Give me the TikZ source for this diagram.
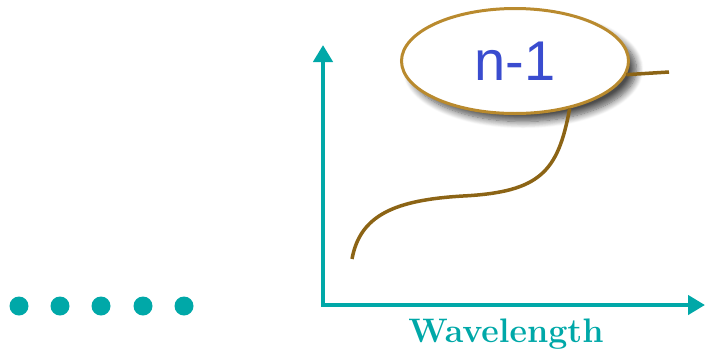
\documentclass[tikz,border=0pt]{standalone}
\usepackage{fontspec}
\usepackage{tikz}
\usetikzlibrary{arrows.meta,shapes.geometric,shadows.blur}
\newfontfamily\ellfont{Liberation Sans}
\definecolor{axisteal}{HTML}{00A8A8}
\definecolor{curvebrown}{HTML}{8C6415}
\definecolor{ringgold}{HTML}{B98A2E}
\definecolor{labelblue}{HTML}{3A4CCF}

\begin{document}
\begin{tikzpicture}[x=1pt,y=-1pt,
  axis/.style={axisteal,line width=4.5pt,line join=miter,{Triangle[length=17pt,width=19pt]}-{Triangle[length=17pt,width=19pt]}},
  curve/.style={curvebrown,line width=3.5pt}]
  \useasboundingbox (0,0) rectangle (706,354);
  \coordinate (O) at (323,305);
  \coordinate (Ytop) at (323,45);
  \coordinate (Xend) at (705,305);
  \coordinate (S) at (352,259);
  \coordinate (E) at (669,72);
  \draw[axis] (Ytop)--(O)--(Xend);
  \node[axisteal,font=\fontsize{34}{40}\selectfont\bfseries] (wl) at (506,334) {Wavelength};
  \foreach \x in {19,60,101,143,184}
    \fill[axisteal] (\x,306) circle (9.5);
  \node[ellipse,draw=ringgold,line width=3pt,fill=white,
    minimum width=227pt,minimum height=105pt,
    blur shadow={shadow xshift=8pt,shadow yshift=-8pt,shadow blur radius=7pt,
      shadow blur steps=10,shadow opacity=70}]
    (ell) at (515,61) {\ellfont\fontsize{56}{60}\selectfont\color{labelblue}n-1};
  \draw[curve] (S) .. controls (360,215) and (395,200) .. (463,196)
    .. controls (540,192) and (558,172) .. (ell.-41);
  \draw[curve] (ell.-7) -- (E);
\end{tikzpicture}
\end{document}
